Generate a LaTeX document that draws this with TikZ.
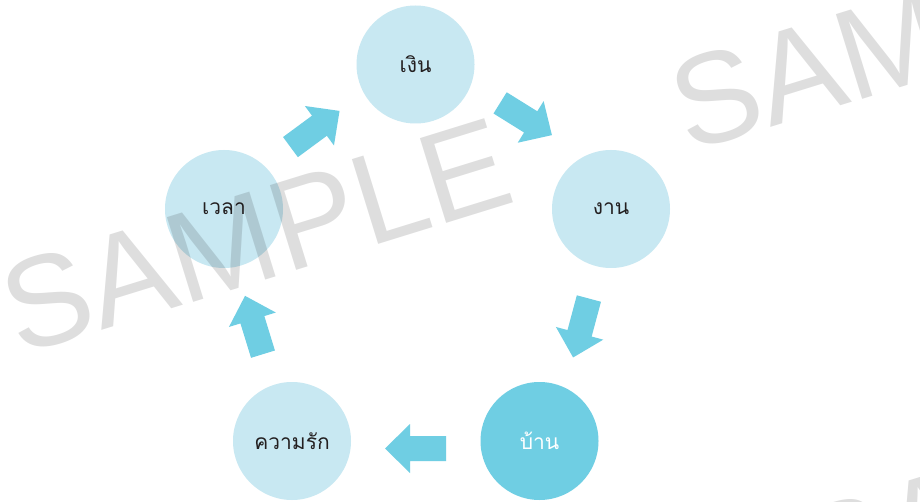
\documentclass[tikz,border=0pt]{standalone}
\usepackage{fontspec}
\newfontfamily\thaifont[Script=Thai]{Loma}
\newfontfamily\wmfont{Liberation Sans}
\definecolor{lightc}{HTML}{C8E8F2}
\definecolor{darkc}{HTML}{6FCEE3}
\definecolor{textc}{HTML}{231F20}
\tikzset{
  circ/.style={circle, minimum size=118pt, inner sep=0pt, fill=lightc, text=textc,
    font=\thaifont\fontsize{21}{25}\selectfont},
  circdark/.style={circ, fill=darkc, text=white},
  wm/.style={font=\wmfont\fontsize{129}{129}\selectfont, text=black, text opacity=0.13,
    rotate=17.2, anchor=base west, inner sep=0pt},
  blockarrow/.style={fill=darkc, draw=none}
}
\newcommand\blockarr[2]{%
  \fill[blockarrow, shift={#1}, rotate=#2]
    (-30.5,-12.5) -- (5.5,-12.5) -- (5.5,-24.5) -- (30.5,0) -- (5.5,24.5) -- (5.5,12.5) -- (-30.5,12.5) -- cycle;}
\begin{document}
\begin{tikzpicture}[x=1pt,y=-1pt]
\useasboundingbox[fill=white] (0,0) rectangle (920,502);
% circles
\node[circ] (ngern) at (415.5,64.5) {เงิน};
\node[circ] (ngan) at (611,209) {งาน};
\node[circdark] (baan) at (539.5,441) {บ้าน};
\node[circ] (khwamrak) at (292,441) {ความรัก};
\node[circ] (wela) at (224,209) {เวลา};
% block arrows
\blockarr{(315,129)}{36.4}
\blockarr{(526,119)}{-31.9}
\blockarr{(581,328)}{-105}
\blockarr{(415.5,448.5)}{180}
\blockarr{(254,325)}{107.1}
% watermarks
\node[wm] (wm1) at (19,356) {SAMPLE};
\node[wm] (wm2) at (688,153) {SAMPLE};
\node[wm] (wm3) at (818,602) {SAMPLE};
\end{tikzpicture}
\end{document}
